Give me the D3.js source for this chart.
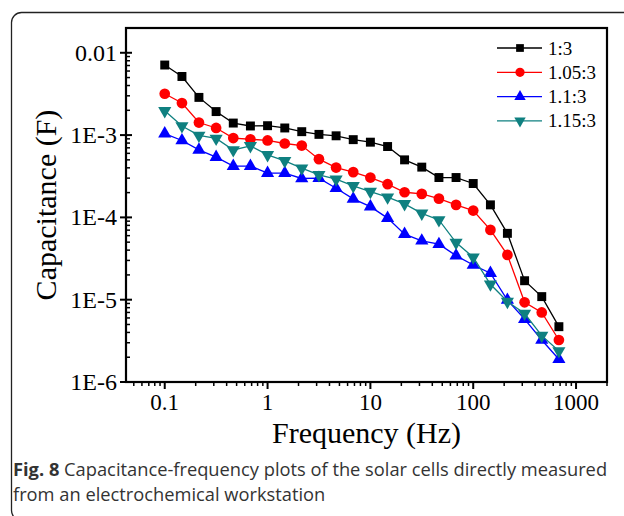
<!DOCTYPE html>
<html><head><meta charset="utf-8">
<script src="https://cdn.jsdelivr.net/npm/d3@7"></script>
<style>body{margin:0;background:#fff}svg{display:block}</style>
</head><body>
<svg id="c" width="624" height="516"></svg>
<script>
// frequency index: 6 points per decade from 0.1 Hz
const freqs = [0.1,0.147,0.215,0.316,0.464,0.681,1,1.47,2.15,3.16,4.64,6.81,10,14.7,21.5,31.6,46.4,68.1,100,147,215,316,464,681];
const s13   = [7.1e-3,5.15e-3,2.87e-3,1.93e-3,1.40e-3,1.29e-3,1.30e-3,1.22e-3,1.10e-3,1.02e-3,0.98e-3,0.88e-3,0.82e-3,7.26e-4,5.0e-4,4.08e-4,3.05e-4,3.05e-4,2.58e-4,1.42e-4,6.4e-5,1.7e-5,1.09e-5,4.7e-6];
const s105  = [3.18e-3,2.45e-3,1.42e-3,1.22e-3,0.92e-3,0.89e-3,0.86e-3,7.9e-4,7.46e-4,5.1e-4,4.03e-4,3.55e-4,3.05e-4,2.53e-4,2.02e-4,1.93e-4,1.69e-4,1.42e-4,1.21e-4,7.05e-5,3.5e-5,9.3e-6,7.0e-6,3.24e-6];
const s11   = [1.04e-3,0.86e-3,6.6e-4,5.4e-4,4.2e-4,4.2e-4,3.45e-4,3.45e-4,2.97e-4,3.0e-4,2.26e-4,1.68e-4,1.35e-4,9.8e-5,6.25e-5,5.2e-5,4.72e-5,3.43e-5,2.64e-5,2.1e-5,9.9e-6,5.8e-6,3.24e-6,1.89e-6];
const s115  = [1.97e-3,1.29e-3,0.99e-3,0.91e-3,6.6e-4,7.4e-4,5.75e-4,4.86e-4,3.96e-4,3.29e-4,2.91e-4,2.42e-4,2.06e-4,1.76e-4,1.46e-4,1.12e-4,9.3e-5,4.94e-5,3.28e-5,1.54e-5,9.5e-6,6.8e-6,3.66e-6,2.38e-6];
const seriesNames = ["1:3","1.05:3","1.1:3","1.15:3"];
const xTickVals = [0.1,1,10,100,1000];
const xTickLabels = ["0.1","1","10","100","1000"];
const yTickVals = [1e-6,1e-5,1e-4,1e-3,1e-2];
const yTickLabels = ["1E-6","1E-5","1E-4","1E-3","0.01"];

const series = [
  {name: seriesNames[0], values: s13,  color: "#000000", sym: d3.symbolSquare,   size: 80},
  {name: seriesNames[1], values: s105, color: "#ff0000", sym: d3.symbolCircle,   size: 90},
  {name: seriesNames[2], values: s11,  color: "#0000ff", sym: d3.symbolTriangle, size: 75},
  {name: seriesNames[3], values: s115, color: "#0f8080", sym: d3.symbolTriangle, size: 75, flip: true}
];

const svg = d3.select("#c");
const L = 126, R = 607, T = 28, B = 382;
const x = d3.scaleLog().domain([0.042, 2000]).range([L, R]);
const y = d3.scaleLog().domain([1e-6, 0.02]).range([B, T]);

// outer rounded card
svg.append("rect").attr("x", 11.5).attr("y", 12.5).attr("width", 700).attr("height", 508)
  .attr("rx", 10).attr("fill", "none").attr("stroke", "#222").attr("stroke-width", 1.3);

const serif = "'Liberation Serif','Times New Roman',serif";

// minor ticks
const xMinor = [];
for (let e = -2; e <= 3; e++) for (let m = 2; m <= 9; m++) { const v = m * Math.pow(10, e); if (v >= 0.042 && v <= 2000) xMinor.push(v); }
const yMinor = [];
for (let e = -6; e <= -2; e++) for (let m = 2; m <= 9; m++) { const v = m * Math.pow(10, e); if (v <= 0.02) yMinor.push(v); }

const g = svg.append("g");
g.selectAll(".xm").data(xMinor).enter().append("line")
  .attr("x1", d => x(d)).attr("x2", d => x(d)).attr("y1", B).attr("y2", B + 4)
  .attr("stroke", "#000").attr("stroke-width", 1.5);
g.selectAll(".xM").data(xTickVals).enter().append("line")
  .attr("x1", d => x(d)).attr("x2", d => x(d)).attr("y1", B).attr("y2", B + 7)
  .attr("stroke", "#000").attr("stroke-width", 2);
g.selectAll(".ym").data(yMinor).enter().append("line")
  .attr("x1", L).attr("x2", L + 4).attr("y1", d => y(d)).attr("y2", d => y(d))
  .attr("stroke", "#000").attr("stroke-width", 1.5);
g.selectAll(".yM").data(yTickVals).enter().append("line")
  .attr("x1", L - 6).attr("x2", L + 6).attr("y1", d => y(d)).attr("y2", d => y(d))
  .attr("stroke", "#000").attr("stroke-width", 2);

// frame
svg.append("rect").attr("x", L).attr("y", T).attr("width", R - L).attr("height", B - T)
  .attr("fill", "none").attr("stroke", "#000").attr("stroke-width", 2.2);

// tick labels
g.selectAll(".xl").data(xTickVals).enter().append("text")
  .attr("x", d => x(d)).attr("y", B + 28).attr("text-anchor", "middle")
  .attr("font-family", serif).attr("font-size", 23).text((d, i) => xTickLabels[i]);
g.selectAll(".yl").data(yTickVals).enter().append("text")
  .attr("x", L - 9).attr("y", d => y(d) + 8).attr("text-anchor", "end")
  .attr("font-family", serif).attr("font-size", 24).text((d, i) => yTickLabels[i]);

// axis titles
svg.append("text").attr("x", (L + R) / 2).attr("y", 443).attr("text-anchor", "middle")
  .attr("font-family", serif).attr("font-size", 30).text("Frequency (Hz)");
svg.append("text").attr("transform", `translate(56,${(T + B) / 2}) rotate(-90)`).attr("text-anchor", "middle")
  .attr("font-family", serif).attr("font-size", 30).text("Capacitance (F)");

// series
const line = d3.line().x((d, i) => x(freqs[i])).y(d => y(d));
series.forEach(s => {
  svg.append("path").datum(s.values).attr("d", line).attr("fill", "none")
    .attr("stroke", s.color).attr("stroke-width", 1.3);
  svg.selectAll(null).data(s.values).enter().append("path")
    .attr("d", d3.symbol().type(s.sym).size(s.size))
    .attr("transform", (d, i) => `translate(${x(freqs[i])},${y(d)})` + (s.flip ? " rotate(180)" : ""))
    .attr("fill", s.color);
});

// legend
const lg = svg.append("g");
series.forEach((s, i) => {
  const yy = 48 + i * 24.3;
  lg.append("line").attr("x1", 497).attr("x2", 542).attr("y1", yy).attr("y2", yy)
    .attr("stroke", s.color).attr("stroke-width", 1.3);
  lg.append("path").attr("d", d3.symbol().type(s.sym).size(s.size * 0.75))
    .attr("transform", `translate(520,${yy})` + (s.flip ? " rotate(180)" : "")).attr("fill", s.color);
  lg.append("text").attr("x", 548).attr("y", yy + 6.5).attr("font-family", serif)
    .attr("font-size", 19).text(s.name);
});

// caption
const cap = svg.append("text").attr("font-family", "'Open Sans',sans-serif").attr("font-size", 18.3).attr("fill", "#333");
const t1 = cap.append("tspan").attr("x", 13).attr("y", 476);
t1.append("tspan").attr("font-weight", "bold").text("Fig. 8");
t1.append("tspan").text(" Capacitance-frequency plots of the solar cells directly measured");
cap.append("tspan").attr("x", 13).attr("y", 501).text("from an electrochemical workstation");
</script>
</body></html>
